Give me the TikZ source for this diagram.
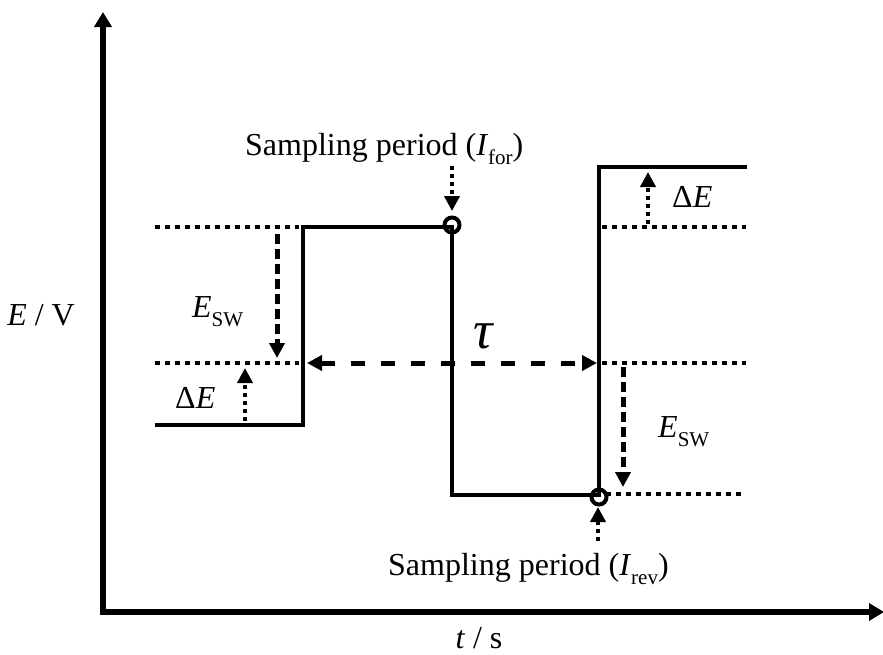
\documentclass[tikz,border=0pt]{standalone}
\usepackage{fontspec}
\setmainfont{Liberation Serif}
\usetikzlibrary{arrows.meta}
\newcommand{\lowsub}[1]{\raisebox{-0.3em}{\fontsize{21}{21}\selectfont #1}}
\begin{document}
\begin{tikzpicture}[x=1pt,y=-1pt,
  head/.style={-{Triangle[width=15pt,length=15pt]}},
  wave/.style={line width=4.5pt,line cap=butt,line join=miter},
  axis/.style={line width=5.5pt,-{Triangle[width=17pt,length=15pt]}},
  guide/.style={line width=4.5pt,dash pattern=on 4.5pt off 5.5pt},
  dsharrow/.style={line width=5pt,dash pattern=on 10pt off 5pt,head},
  dotarrow/.style={line width=4pt,dash pattern=on 4pt off 4pt,head},
  tauarrow/.style={line width=5pt,dash pattern=on 14pt off 16pt,{Triangle[width=15pt,length=15pt]}-{Triangle[width=15pt,length=15pt]}},
  lbl/.style={inner sep=0pt,font=\fontsize{32}{36}\selectfont},
  samp/.style={line width=4pt,draw,circle,minimum size=15pt,inner sep=0pt}]
\useasboundingbox (0,0) rectangle (883,654);
% axes
\coordinate (O) at (103,612);
\coordinate (ytop) at (103,12);
\coordinate (xend) at (884,612);
\draw[axis] ([yshift=-2.75pt]O) -- (ytop);
\draw[axis] ([xshift=-2.75pt]O) -- (xend);
\node[lbl,anchor=base east] (ylab) at (75,325) {\textit{E} / V};
\node[lbl,anchor=base] (xlab) at (479,648) {\textit{t} / s};
% waveform
\coordinate (w0) at (155,425);
\coordinate (w1) at (303,425);
\coordinate (w2) at (303,227);
\coordinate (w3) at (452,227);
\coordinate (w4) at (452,495);
\coordinate (w5) at (599,495);
\coordinate (w6) at (599,167);
\coordinate (w7) at (747,167);
\draw[wave] (w0) -- (w1) -- (w2) -- (w3) -- (w4) -- (w5) -- (w6) -- (w7);
% guide lines
\coordinate (g1a) at (155,227); \coordinate (g1b) at (299,227);
\coordinate (g2a) at (155,363); \coordinate (g2b) at (299,363);
\coordinate (g3a) at (602,227); \coordinate (g3b) at (746,227);
\coordinate (g4a) at (602,363); \coordinate (g4b) at (746,363);
\coordinate (g5a) at (606,494); \coordinate (g5b) at (746,494);
\draw[guide] (g1a) -- (g1b);
\draw[guide] (g2a) -- (g2b);
\draw[guide] (g3a) -- (g3b);
\draw[guide] (g4a) -- (g4b);
\draw[guide] (g5a) -- (g5b);
% left arrows
\coordinate (a1s) at (277,234); \coordinate (a1e) at (277,358);
\draw[dsharrow] (a1s) -- (a1e);
\coordinate (a2s) at (245,421); \coordinate (a2e) at (245,368);
\draw[dotarrow] (a2s) -- (a2e);
\node[lbl,anchor=base west] (esw1) at (192,317) {\textit{E}\lowsub{SW}};
\node[lbl,anchor=base west] (de1) at (175,408) {Δ\textit{E}};
% right arrows
\coordinate (a3s) at (648,224); \coordinate (a3e) at (648,172);
\draw[dotarrow] (a3s) -- (a3e);
\node[lbl,anchor=base west] (de2) at (672,207) {Δ\textit{E}};
\coordinate (a4s) at (623,367); \coordinate (a4e) at (623,487);
\draw[dsharrow] (a4s) -- (a4e);
\node[lbl,anchor=base west] (esw2) at (658,437) {\textit{E}\lowsub{SW}};
% tau
\coordinate (t1) at (307,363); \coordinate (t2) at (597,363);
\draw[tauarrow] (t1) -- (t2);
\node[lbl,anchor=base,font=\fontsize{54}{58}\selectfont] (tau) at (484,348) {\textit{τ}};
% sampling top
\node[samp] (c1) at (452,225) {};
\coordinate (s1s) at (452,166); \coordinate (s1e) at (452,211);
\draw[dotarrow] (s1s) -- (s1e);
\node[lbl,anchor=base west] (st1) at (245,155) {Sampling period (\textit{I}\lowsub{for})};
% sampling bottom
\node[samp] (c2) at (599,497) {};
\coordinate (s2s) at (598,541); \coordinate (s2e) at (598,507);
\draw[dotarrow] (s2s) -- (s2e);
\node[lbl,anchor=base west] (st2) at (388,575) {Sampling period (\textit{I}\lowsub{rev})};
\end{tikzpicture}
\end{document}
